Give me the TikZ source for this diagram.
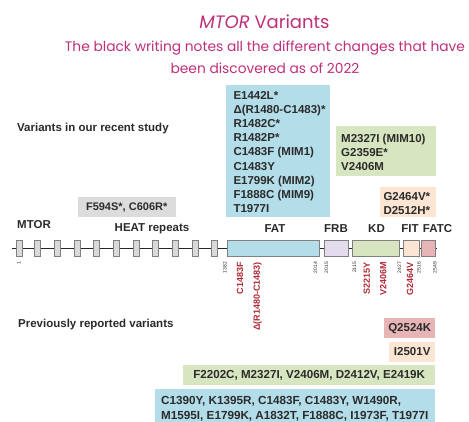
\documentclass[tikz,border=0pt]{standalone}
\usepackage{fontspec}
\setmainfont{Liberation Sans}
\newfontfamily\titlefont{Poppins}
\definecolor{blueF}{HTML}{B3DDE9}
\definecolor{greenF}{HTML}{D7E6C0}
\definecolor{peachF}{HTML}{FCE5D3}
\definecolor{pinkF}{HTML}{E8B5B7}
\definecolor{grayF}{HTML}{DCDCDC}
\definecolor{lavF}{HTML}{E3DCEC}
\definecolor{heatF}{HTML}{D9D9D9}
\definecolor{redT}{HTML}{B02A35}
\definecolor{titleC}{HTML}{C0307A}
\definecolor{textC}{HTML}{2B2B2B}
\definecolor{edgeC}{HTML}{808080}
\begin{document}
\begin{tikzpicture}[x=1pt,y=-1pt,
  lbl/.style={font=\fontsize{11.5}{14.1}\selectfont\bfseries, text=textC, inner sep=0pt},
  ltxt/.style={lbl, align=left, anchor=west},
  ctxt/.style={lbl, align=center},
  panel/.style={anchor=north west, inner sep=0pt, draw=none},
  dom/.style={draw=edgeC, line width=0.8pt, minimum height=16.7pt, inner sep=0pt},
  heat/.style={dom, fill=heatF, minimum width=6pt},
  posn/.style={font=\fontsize{5}{5}\selectfont, text=textC, rotate=90, anchor=east, inner sep=0pt},
  mut/.style={font=\fontsize{9}{9}\selectfont\bfseries, text=redT, rotate=90, anchor=east, inner sep=0pt},
  hdr/.style={font=\fontsize{11.5}{12}\selectfont\bfseries, text=textC, inner sep=0pt}
]
\useasboundingbox (0,0) rectangle (469,422);
\fill[white] (0,0) rectangle (469,422);

% title
\node[font=\titlefont\fontsize{18}{20}\selectfont, text=titleC, inner sep=0pt] (title) at (264.5,22) {\textit{MTOR} Variants};
\node[font=\titlefont\fontsize{13.8}{21.8}\selectfont, text=titleC, inner sep=0pt, align=center] (subtitle) at (265,57.5)
  {The black writing notes all the different changes that have\\been discovered as of 2022};

% section labels
\node[hdr, anchor=west] (recent) at (17,129) {Variants in our recent study};
\node[hdr, anchor=west] (prev) at (18,325) {Previously reported variants};

% top variant boxes
\node[panel, fill=blueF, minimum width=103.3pt, minimum height=132.3pt] (fatbox) at (226,85) {};
\node[ltxt] (fattxt) at (233.3,152)
  {E1442L*\\ Δ(R1480-C1483)*\\ R1482C*\\ R1482P*\\ C1483F (MIM1)\\ C1483Y\\ E1799K (MIM2)\\ F1888C (MIM9)\\ T1977I};
\node[panel, fill=greenF, minimum width=100pt, minimum height=50pt] (kdbox) at (336,126) {};
\node[ltxt] (kdtxt) at (341,152.2) {M2327I (MIM10)\\ G2359E*\\ V2406M};
\node[panel, fill=peachF, minimum width=56.7pt, minimum height=30pt] (fitbox) at (379.3,187.3) {};
\node[ltxt] (fittxt) at (383.3,203.7) {G2464V*\\ D2512H*};
\node[panel, fill=grayF, minimum width=98.4pt, minimum height=20pt] (heatbox) at (77.3,197.3) {};
\node[ctxt, font=\fontsize{11}{12}\selectfont\bfseries] (heattxt) at (heatbox.center) {F594S*, C606R*};

% domain labels
\node[hdr, anchor=west] (mtor) at (17,225) {MTOR};
\node[hdr] (heatlbl) at (152,229) {HEAT repeats};
\node[hdr] (fatlbl) at (275,229) {FAT};
\node[hdr] (frblbl) at (336,229) {FRB};
\node[hdr] (kdlbl) at (376.5,229) {KD};
\node[hdr] (fitlbl) at (410,229) {FIT};
\node[hdr] (fatclbl) at (437.5,229) {FATC};

% backbone
\coordinate (bbL) at (12,248.5);
\coordinate (bbR) at (436.5,248.5);
\draw[line width=1.4pt, black!85] (bbL) -- (bbR);
\foreach \i/\x in {1/19,2/37.7,3/57.3,4/77,5/96.7,6/116.3,7/136,8/155.7,9/175.3,10/195,11/214.3}
  \node[heat] (h\i) at (\x,248.5) {};
\node[dom, fill=blueF, minimum width=91.6pt] (fat) at (273.5,248.5) {};
\node[dom, fill=lavF, minimum width=24pt] (frb) at (336.3,248.5) {};
\node[dom, fill=greenF, minimum width=47.4pt] (kd) at (376,248.5) {};
\node[dom, fill=peachF, minimum width=15.3pt] (fit) at (411.3,248.5) {};
\node[dom, fill=pinkF, minimum width=13.5pt] (fatc) at (428.2,248.5) {};

% positions
\node[posn] (p1) at (19,262) {1};
\node[posn] (p1382) at (225,262) {1382};
\node[posn] (p2014) at (315.5,262) {2014};
\node[posn] (p2015) at (326.5,262) {2015};
\node[posn] (p2115) at (354.5,262) {2115};
\node[posn] (p2427) at (399.5,262) {2427};
\node[posn] (p2516) at (419,262) {2516};
\node[posn] (p2549) at (435,262) {2549};

% mutations in red
\node[mut] (m1) at (240,262) {C1483F};
\node[mut] (m2) at (257.5,262) {Δ(R1480-C1483)};
\node[mut] (m3) at (366.7,262) {S2215Y};
\node[mut] (m4) at (383.3,262) {V2406M};
\node[mut] (m5) at (410,262) {G2464V};

% previously reported boxes
\node[panel, fill=pinkF, minimum width=51pt, minimum height=20pt] (q) at (384,318.3) {};
\node[ctxt] (qtxt) at (q.center) {Q2524K};
\node[panel, fill=peachF, minimum width=46pt, minimum height=20pt] (i) at (389,341.7) {};
\node[ctxt] (itxt) at (i.center) {I2501V};
\node[panel, fill=greenF, minimum width=252pt, minimum height=20pt] (g) at (183,365) {};
\node[ctxt, font=\fontsize{11.6}{12}\selectfont\bfseries] (gtxt) at (g.center) {F2202C, M2327I, V2406M, D2412V, E2419K};
\node[panel, fill=blueF, minimum width=280.7pt, minimum height=34pt] (b) at (154.3,388.3) {};
\node[ltxt, font=\fontsize{11.7}{15}\selectfont\bfseries] (btxt) at (161,408.5)
  {C1390Y, K1395R, C1483F, C1483Y, W1490R,\\ M1595I, E1799K, A1832T, F1888C, I1973F, T1977I};
\end{tikzpicture}
\end{document}
